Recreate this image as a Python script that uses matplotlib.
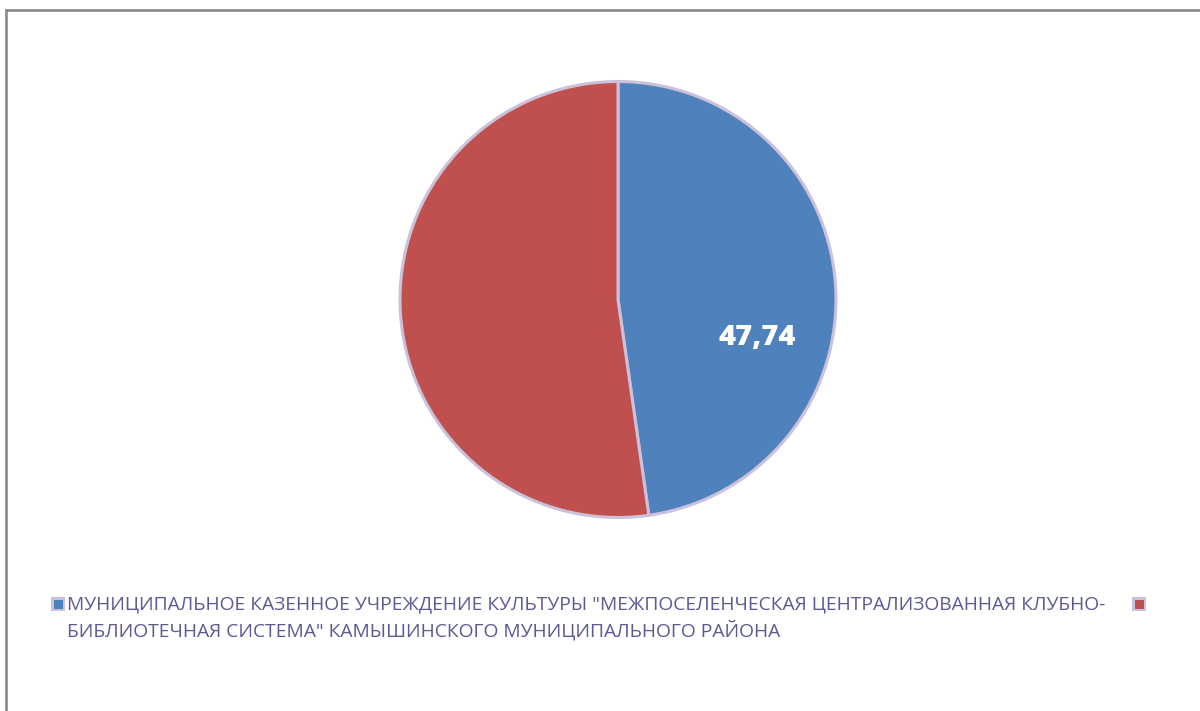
import matplotlib.pyplot as plt
from matplotlib.patches import Rectangle

# data
labels = ['МУНИЦИПАЛЬНОЕ КАЗЕННОЕ УЧРЕЖДЕНИЕ КУЛЬТУРЫ "МЕЖПОСЕЛЕНЧЕСКАЯ ЦЕНТРАЛИЗОВАННАЯ КЛУБНО-\n'
          'БИБЛИОТЕЧНАЯ СИСТЕМА" КАМЫШИНСКОГО МУНИЦИПАЛЬНОГО РАЙОНА', '']
values = [47.74, 52.26]
value_labels = ['47,74', '']
colors = ['#4F81BD', '#C0504D']

W, H = 1200, 711
fig = plt.figure(figsize=(W / 100, H / 100), dpi=100)

# chart frame (only top and left visible)
fig.add_artist(plt.Line2D([5.5 / W, 5.5 / W], [0, 1 - 9.5 / H], color='#888888', lw=1.9))
fig.add_artist(plt.Line2D([5.5 / W, 1], [1 - 9.5 / H, 1 - 9.5 / H], color='#888888', lw=1.9))

# pie axes: centre (618, 299.5), radius 218 px
cx, cy, r = 618, 299.5, 218
ax = fig.add_axes([(cx - r) / W, 1 - (cy + r) / H, 2 * r / W, 2 * r / H])
wedges, _ = ax.pie(values, colors=colors, startangle=90, counterclock=False,
                   radius=1.0, wedgeprops=dict(edgecolor='#CCC1DA', linewidth=2.2))
ax.set_xlim(-1, 1)
ax.set_ylim(-1, 1)
ax.set_aspect('equal')
ax.axis('off')

for txt, w in zip(value_labels, wedges):
    if txt:
        ax.text(0.64, -0.175, txt, ha='center', va='center', color='white',
                fontsize=21, fontweight='heavy', family='Open Sans')

# legend drawn by hand to match the layout
txt_color = '#5A5A94'
leg_y = 604
marker_x = [58, 1139]
text_x = [67, None]
for lab, c, mx, tx in zip(labels, colors, marker_x, text_x):
    fig.add_artist(Rectangle(((mx - 7) / W, 1 - (leg_y + 7) / H), 14 / W, 14 / H,
                             facecolor='#CCC1DA', edgecolor='none'))
    fig.add_artist(Rectangle(((mx - 4.5) / W, 1 - (leg_y + 4.5) / H), 9 / W, 9 / H,
                             facecolor=c, edgecolor='none'))
    if lab:
        fig.text(tx / W, 1 - (leg_y - 9) / H, lab, ha='left', va='top', color=txt_color,
                 fontsize=13.9, family='Open Sans', linespacing=1.45)

fig.savefig('out.png', dpi=100, facecolor='white')
